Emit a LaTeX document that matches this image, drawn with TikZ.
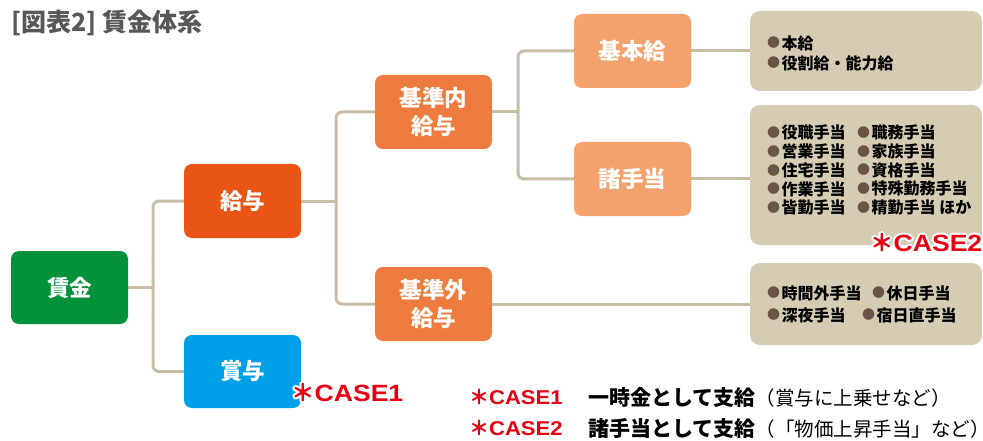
\documentclass[tikz,border=0pt]{standalone}
\usepackage{fontspec}
\usepackage{graphicx}
\newfontfamily\jp{Noto Sans CJK JP}
\newfontfamily\lat{Liberation Sans}
\usetikzlibrary{calc}
\definecolor{cgreen}{RGB}{0,145,58}
\definecolor{cred}{RGB}{233,85,20}
\definecolor{cblue}{RGB}{0,160,233}
\definecolor{corange}{RGB}{238,124,62}
\definecolor{clight}{RGB}{243,162,110}
\definecolor{beige}{RGB}{214,204,180}
\definecolor{connc}{RGB}{200,190,165}
\definecolor{bulc}{RGB}{105,85,70}
\definecolor{tgray}{RGB}{89,87,87}
\definecolor{casered}{RGB}{230,0,18}
\newcommand\bul{{\color{bulc}\fontsize{13}{13}\selectfont\raisebox{1.2pt}{●}}\kern1.5pt}
\newcommand\caselab[3]{{\fontsize{#1}{#1}\selectfont\jp\bfseries ＊}{\fontsize{#1}{#1}\selectfont\lat\bfseries\scalebox{#2}[1]{CASE#3}}}
\tikzset{
  box/.style={rounded corners=8pt, minimum width=117pt, minimum height=74pt, inner sep=0pt,
    text=white, font=\jp\bfseries\fontsize{22.5}{28}\selectfont, align=center},
  panel/.style={fill=beige, rounded corners=10pt, minimum width=232pt, inner sep=0pt},
  conn/.style={draw=connc, line width=3pt, rounded corners=6pt},
  item/.style={anchor=west, inner sep=0pt, font=\jp\bfseries\fontsize{16}{16}\selectfont},
  legend/.style={anchor=west, inner sep=0pt, font=\jp\fontsize{19.5}{19.5}\selectfont},
  clab/.style={anchor=west, inner sep=0pt, text=casered},
  clabw/.style={anchor=west, inner sep=0pt, text=white}
}
\begin{document}
\begin{tikzpicture}[x=1pt,y=-1pt]
\useasboundingbox (0,0) rectangle (983,441);
% title
\node[anchor=west, inner sep=0pt, text=tgray, font=\jp\bfseries\fontsize{25}{25}\selectfont] (title) at (11,23) {[図表2] 賃金体系};
% panels
\node[panel, minimum height=80pt] (b1) at (866,51) {};
\node[panel, minimum height=140pt] (b2) at (866,175) {};
\node[panel, minimum height=82pt] (b3) at (866,304) {};
% boxes
\node[box, fill=cgreen, minimum height=73pt] (wage) at (69.5,287.5) {賃金};
\node[box, fill=cred] (kyuyo) at (242.5,201) {給与};
\node[box, fill=cblue, minimum height=73pt] (shoyo) at (242.5,371.5) {賞与};
\node[box, fill=corange] (naibu) at (433.5,112) {基準内\\給与};
\node[box, fill=corange] (gaibu) at (433.5,304) {基準外\\給与};
\node[box, fill=clight] (kihon) at (632.5,51) {基本給};
\node[box, fill=clight] (shote) at (632.5,179) {諸手当};
% connectors
\coordinate (j1) at (153,287.5);
\coordinate (j2) at (336,201);
\coordinate (j3) at (518,112);
\draw[conn] (kyuyo.west) -| (j1) |- (shoyo.west);
\draw[conn] (wage.east) -- (j1);
\draw[conn] (naibu.west) -| (j2) |- (gaibu.west);
\draw[conn] (kyuyo.east) -- (j2);
\draw[conn] (kihon.west) -| (j3) |- (shote.west);
\draw[conn] (naibu.east) -- (j3);
\draw[conn] (kihon.east) -- (kihon.east -| b1.west);
\draw[conn] (shote.east) -- (shote.east -| b2.west);
\draw[conn] (gaibu.east) -- (gaibu.east -| b3.west);
% panel texts
\node[item] (p1a) at (767,43) {\bul 本給};
\node[item] (p1b) at (767,63) {\bul 役割給・能力給};
\node[item] (p2a) at (767,132.5) {\bul 役職手当};
\node[item] (p2b) at (857,132.5) {\bul 職務手当};
\node[item] (p2c) at (767,151.3) {\bul 営業手当};
\node[item] (p2d) at (857,151.3) {\bul 家族手当};
\node[item] (p2e) at (767,170.1) {\bul 住宅手当};
\node[item] (p2f) at (857,170.1) {\bul 資格手当};
\node[item] (p2g) at (767,188.9) {\bul 作業手当};
\node[item] (p2h) at (857,188.9) {\bul 特殊勤務手当};
\node[item] (p2i) at (767,207.7) {\bul 皆勤手当};
\node[item] (p2j) at (857,207.7) {\bul 精勤手当 ほか};
\node[item] (p3a) at (767,293) {\bul 時間外手当};
\node[item] (p3b) at (872,293) {\bul 休日手当};
\node[item] (p3c) at (767,315) {\bul 深夜手当};
\node[item] (p3d) at (862,315) {\bul 宿日直手当};
% case labels with white outline
\coordinate (c1) at (291,393);
\coordinate (c2) at (870,243);
\foreach \a in {0,30,...,330} {
  \node[clabw] (c1w\a) at ($(c1)+(\a:2)$) {\caselab{23.5}{1.13}{1}};
  \node[clabw] (c2w\a) at ($(c2)+(\a:2)$) {\caselab{23.5}{1.13}{2}};
}
\node[clab] (case1) at (c1) {\caselab{23.5}{1.13}{1}};
\node[clab] (case2) at (c2) {\caselab{23.5}{1.13}{2}};
% legend
\node[clab] (l1) at (469,397) {\caselab{20}{1.1}{1}};
\node[clab] (l2) at (469,428) {\caselab{20}{1.1}{2}};
\node[legend] (l1t) at (588,397) {{\fontsize{21}{21}\selectfont\bfseries 一時金として支給}（賞与に上乗せなど）};
\node[legend] (l2t) at (588,428) {{\fontsize{21}{21}\selectfont\bfseries 諸手当として支給}（「物価上昇手当」など）};
\end{tikzpicture}
\end{document}
